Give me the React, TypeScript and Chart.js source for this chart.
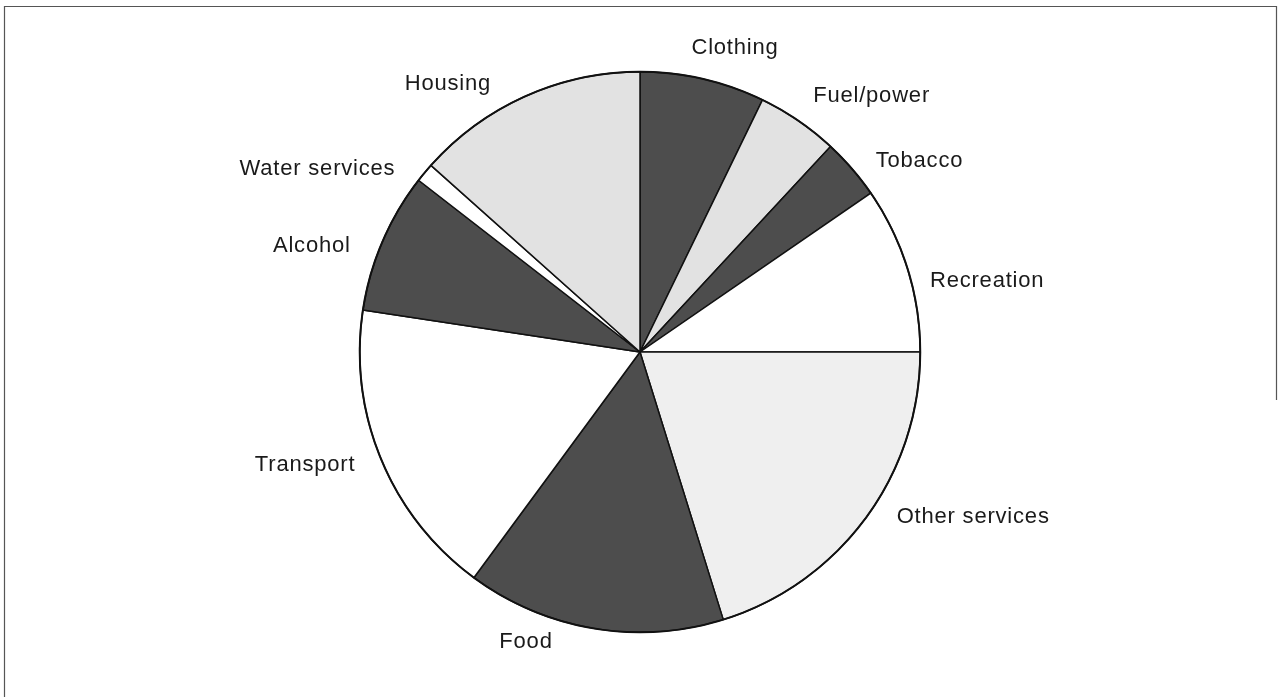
import React, { useEffect, useRef } from "react";
import { Chart, registerables } from "chart.js";

Chart.register(...registerables);

const categories = [
  "Clothing",
  "Fuel/power",
  "Tobacco",
  "Recreation",
  "Other services",
  "Food",
  "Transport",
  "Alcohol",
  "Water services",
  "Housing",
];

const shares = [7.2, 4.7, 3.5, 9.6, 20.2, 14.9, 17.3, 8.1, 1.1, 13.4];

const DARK = "#4d4d4d";
const LIGHT = "#e2e2e2";
const PALE = "#efefef";
const WHITE = "#ffffff";
const sliceColors = [DARK, LIGHT, DARK, WHITE, PALE, DARK, WHITE, DARK, WHITE, LIGHT];

// label placement: [angle in degrees clockwise from top, distance as multiple of radius]
const labelPlacement: [number, number][] = [
  [17.3, 1.14],
  [42.0, 1.235],
  [55.5, 1.21],
  [78.3, 1.265],
  [116.2, 1.325],
  [201.5, 1.11],
  [251.5, 1.26],
  [288.1, 1.232],
  [299.7, 1.325],
  [324.5, 1.18],
];

const framePlugin = {
  id: "frame",
  beforeDraw(chart: any) {
    const ctx = chart.ctx;
    ctx.save();
    ctx.fillStyle = "#ffffff";
    ctx.fillRect(0, 0, chart.width, chart.height);
    ctx.strokeStyle = "#555555";
    ctx.lineWidth = 1.2;
    ctx.beginPath();
    ctx.moveTo(4.5, chart.height);
    ctx.lineTo(4.5, 6.5);
    ctx.lineTo(chart.width - 1.5, 6.5);
    ctx.lineTo(chart.width - 1.5, 400);
    ctx.stroke();
    ctx.restore();
  },
};

const labelPlugin = {
  id: "outerLabels",
  afterDatasetsDraw(chart: any) {
    const meta = chart.getDatasetMeta(0);
    if (!meta || !meta.data.length) return;
    const arc = meta.data[0];
    const cx = arc.x;
    const cy = arc.y;
    const r = arc.outerRadius;
    const ctx = chart.ctx;
    ctx.save();
    // outer rim
    ctx.strokeStyle = "#111111";
    ctx.lineWidth = 2;
    ctx.beginPath();
    ctx.arc(cx, cy, r, 0, Math.PI * 2);
    ctx.stroke();
    // labels
    ctx.fillStyle = "#1a1a1a";
    ctx.font = "22px 'Liberation Sans', Arial, sans-serif";
    (ctx as any).letterSpacing = "0.8px";
    ctx.textAlign = "center";
    ctx.textBaseline = "middle";
    categories.forEach((label, i) => {
      const [deg, f] = labelPlacement[i];
      const a = (deg * Math.PI) / 180;
      const x = cx + Math.sin(a) * r * f;
      const y = cy - Math.cos(a) * r * f;
      ctx.fillText(label, x, y + 1);
    });
    ctx.restore();
  },
};

export default function App() {
  const ref = useRef<HTMLCanvasElement | null>(null);

  useEffect(() => {
    if (!ref.current) return;
    const chart = new Chart(ref.current, {
      type: "pie",
      data: {
        labels: categories,
        datasets: [
          {
            data: shares,
            backgroundColor: sliceColors,
            borderColor: "#111111",
            borderWidth: 1.5,
            hoverOffset: 0,
          },
        ],
      },
      options: {
        animation: false,
        responsive: true,
        maintainAspectRatio: false,
        layout: {
          padding: { left: 359, right: 357, top: 71, bottom: 64 },
        },
        plugins: {
          legend: { display: false },
          tooltip: { enabled: false },
        },
        events: [],
      },
      plugins: [framePlugin, labelPlugin],
    });
    return () => chart.destroy();
  }, []);

  return (
    <div style={{ position: "fixed", left: 0, top: 0, width: 1278, height: 697, background: "#fff" }}>
      <canvas ref={ref} />
    </div>
  );
}
